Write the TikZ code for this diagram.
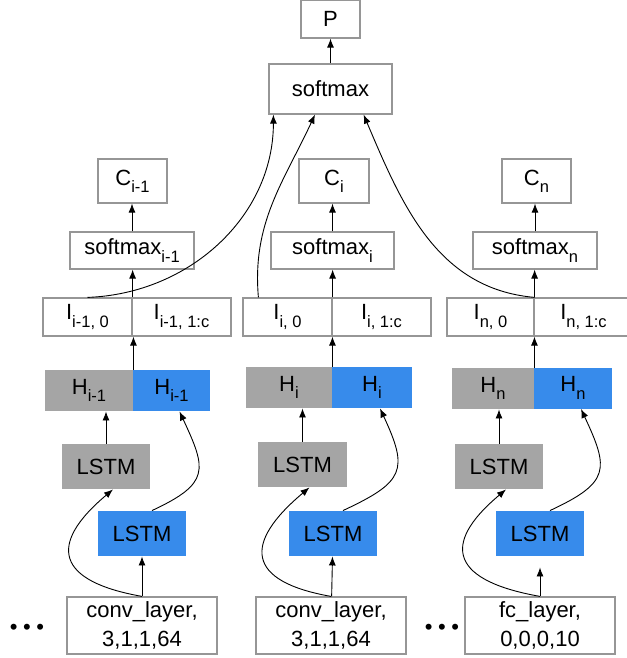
\documentclass[tikz,border=0pt]{standalone}
\usepackage{fontspec}
\setmainfont{Liberation Sans}
\usetikzlibrary{arrows.meta}
\definecolor{boxgray}{RGB}{150,150,150}
\definecolor{lstmgray}{RGB}{165,165,165}
\definecolor{lstmblue}{RGB}{55,139,235}
\newcommand{\lowsub}[1]{\raisebox{-0.33em}{\fontsize{16.5}{17}\selectfont #1}}

\begin{document}
\begin{tikzpicture}
	[x=1pt,y=1pt,>={Latex[length=9pt,width=7pt]},line width=0.9pt,
	every node/.style={inner sep=0pt,font=\fontsize{22}{29}\selectfont},
	wbox/.style={draw=boxgray,line width=1.2pt,fill=white},
	gbox/.style={fill=lstmgray},
	bbox/.style={fill=lstmblue}]
	\useasboundingbox (0,0) rectangle (626,-658);
	
	\node[wbox,minimum width=59pt,minimum height=38pt] (P) at (330.5,-19) {P};
	\node[wbox,minimum width=123pt,minimum height=50pt] (sm) at (330.5,-89) {softmax};
	
	% column i-1
	\node[wbox,minimum width=69pt,minimum height=44pt] (ca) at (132.5,-181) {C\lowsub{i-1}};
	\node[wbox,minimum width=124pt,minimum height=37pt] (sma) at (132,-250.5) {softmax\lowsub{i-1}};
	\node[wbox,minimum width=89pt,minimum height=38pt] (i0a) at (87.5,-317) {I\lowsub{i-1, 0}};
	\node[wbox,minimum width=99pt,minimum height=38pt] (i1a) at (181.5,-317) {I\lowsub{i-1, 1:c}};
	\node[gbox,minimum width=88pt,minimum height=41pt] (hga) at (89,-390.5) {H\lowsub{i-1}};
	\node[bbox,minimum width=77pt,minimum height=41pt] (hba) at (171.5,-390.5) {H\lowsub{i-1}};
	\node[gbox,minimum width=88pt,minimum height=45pt] (lga) at (106,-466.5) {LSTM};
	\node[bbox,minimum width=88pt,minimum height=45pt] (lba) at (142,-533.5) {LSTM};
	\node[wbox,minimum width=150pt,minimum height=57pt,align=center] (ina) at (142,-625.5) {conv\_layer,\\3,1,1,64};
	\node (dota) at (27,-629.5) {\textbullet\hspace{5.5pt}\textbullet\hspace{5.5pt}\textbullet};
	
	% column i
	\node[wbox,minimum width=70pt,minimum height=44pt] (cb) at (334,-181) {C\lowsub{i}};
	\node[wbox,minimum width=123pt,minimum height=37pt] (smb) at (332.5,-250.5) {softmax\lowsub{i}};
	\node[wbox,minimum width=89pt,minimum height=38pt] (i0b) at (287.5,-317) {I\lowsub{i, 0}};
	\node[wbox,minimum width=99pt,minimum height=38pt] (i1b) at (381.5,-317) {I\lowsub{i, 1:c}};
	\node[gbox,minimum width=86pt,minimum height=41pt] (hgb) at (289,-387.5) {H\lowsub{i}};
	\node[bbox,minimum width=80pt,minimum height=41pt] (hbb) at (372,-387.5) {H\lowsub{i}};
	\node[gbox,minimum width=89pt,minimum height=45pt] (lgb) at (302.5,-464.5) {LSTM};
	\node[bbox,minimum width=88pt,minimum height=45pt] (lbb) at (333,-533.5) {LSTM};
	\node[wbox,minimum width=150pt,minimum height=57pt,align=center] (inb) at (331,-625.5) {conv\_layer,\\3,1,1,64};
	
	% column n
	\node[wbox,minimum width=69pt,minimum height=44pt] (cc) at (536.5,-181) {C\lowsub{n}};
	\node[wbox,minimum width=124pt,minimum height=37pt] (smc) at (535,-250.5) {softmax\lowsub{n}};
	\node[wbox,minimum width=87pt,minimum height=38pt] (i0c) at (490.5,-317) {I\lowsub{n, 0}};
	\node[wbox,minimum width=99pt,minimum height=38pt] (i1c) at (583.5,-317) {I\lowsub{n, 1:c}};
	\node[gbox,minimum width=82pt,minimum height=41pt] (hgc) at (493,-388.5) {H\lowsub{n}};
	\node[bbox,minimum width=78pt,minimum height=41pt] (hbc) at (573,-388) {H\lowsub{n}};
	\node[gbox,minimum width=88pt,minimum height=45pt] (lgc) at (499,-466.5) {LSTM};
	\node[bbox,minimum width=88pt,minimum height=45pt] (lbc) at (540,-533.5) {LSTM};
	\node[wbox,minimum width=150pt,minimum height=57pt,align=center] (inc) at (540,-625.5) {fc\_layer,\\0,0,0,10};
	\node (dotc) at (442,-629.5) {\textbullet\hspace{5.5pt}\textbullet\hspace{5.5pt}\textbullet};
	
	\draw[->] (sm) -- (P);
	\foreach \col in {a,b,c}
	{
		\draw[->] (i0\col.north east) -- (i0\col.north east |- sm\col.south);
		\draw[->] (sm\col.north) -- (sm\col.north |- c\col.south);
		\draw[->] (hg\col.north east) -- (hg\col.north east |- i0\col.south);
		\draw[->] (lg\col.north) -- (lg\col.north |- hg\col.south);
		\draw[->] ([xshift=10pt]lb\col.north) to[out=25,in=-65,looseness=1.6] ([xshift=8pt]hb\col.south);
		\draw[->] (in\col.north) to[out=170,in=-140,looseness=2] ([xshift=7pt]lg\col.south);
	}
	\draw[->] (ina) -- (lba);
	\draw[->] (inb) -- (lbb);
	\draw[->,shorten >=11pt] (inc) -- (lbc);
	
	% into the final softmax
	\draw[->] (i0a.north) to[out=2,in=-90] ([xshift=5pt]sm.south west);
	\draw[->] ([xshift=16pt]i0b.north west) to[out=95,in=-115] ([xshift=-15.5pt]sm.south);
	\draw[->] (i0c.north east) to[out=175,in=-67] ([xshift=-29pt]sm.south east);
\end{tikzpicture}
\end{document}
